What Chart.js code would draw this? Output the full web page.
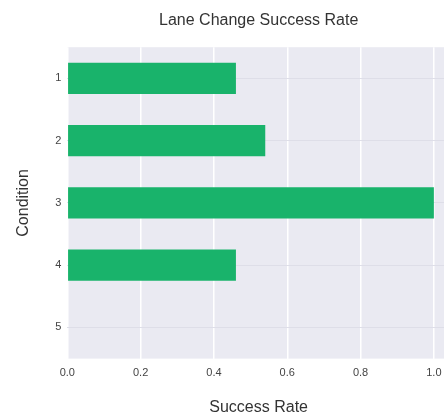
<!DOCTYPE html>
<html>
<head>
<meta charset="utf-8">
<script src="https://cdn.jsdelivr.net/npm/chart.js@4/dist/chart.umd.min.js"></script>
<style>
html,body{margin:0;padding:0;background:#fff;overflow:hidden;}
#outer{width:444px;height:417px;overflow:hidden;position:relative;}
#wrap{width:450px;height:417px;position:absolute;left:0;top:0;}
</style>
</head>
<body>
<div id="outer"><div id="wrap"><canvas id="c"></canvas></div></div>
<script>
const categories = ["1", "2", "3", "4", "5"];
const successRate = [0.46, 0.54, 1.0, 0.46, 0];
const xTicks = [0, 0.2, 0.4, 0.6, 0.8, 1.0];

const bgPlugin = {
  id: 'bg',
  beforeDraw(chart) {
    const {ctx, chartArea: a} = chart;
    ctx.save();
    ctx.fillStyle = '#EAEAF2';
    ctx.fillRect(a.left, a.top, a.right - a.left, a.bottom - a.top);
    ctx.restore();
  }
};

new Chart(document.getElementById('c'), {
  type: 'bar',
  data: {
    labels: categories,
    datasets: [{
      data: successRate,
      backgroundColor: '#19B36B',
      borderWidth: 0,
      barPercentage: 0.5,
      categoryPercentage: 1.0
    }]
  },
  plugins: [bgPlugin],
  options: {
    indexAxis: 'y',
    responsive: true,
    maintainAspectRatio: false,
    animation: false,
    devicePixelRatio: 1,
    layout: {padding: {left: 14, right: 0, top: 5, bottom: 0}},
    plugins: {
      legend: {display: false},
      tooltip: {enabled: false},
      title: {
        display: true,
        fullSize: false,
        text: 'Lane Change Success Rate',
        color: '#333333',
        font: {family: 'Liberation Sans, Arial, sans-serif', size: 16, weight: 'normal'},
        padding: {top: 6, bottom: 17}
      }
    },
    scales: {
      x: {
        type: 'linear',
        min: 0,
        max: 1.044,
        afterBuildTicks(scale) { scale.ticks = xTicks.map(v => ({value: v})); },
        grid: {color: '#FFFFFF', lineWidth: 1.5, drawTicks: false},
        border: {display: false},
        ticks: {
          color: '#444444',
          font: {family: 'Liberation Sans, Arial, sans-serif', size: 11},
          padding: 8,
          callback: v => v.toFixed(1)
        },
        title: {
          display: true,
          text: 'Success Rate',
          color: '#333333',
          font: {family: 'Liberation Sans, Arial, sans-serif', size: 16},
          padding: {top: 10, bottom: 0}
        }
      },
      y: {
        offset: true,
        grid: {color: '#DEDEE8', lineWidth: 1, drawTicks: false, offset: false},
        border: {display: false},
        ticks: {
          color: '#444444',
          font: {family: 'Liberation Sans, Arial, sans-serif', size: 11},
          padding: 6
        },
        title: {
          display: true,
          text: 'Condition',
          color: '#333333',
          font: {family: 'Liberation Sans, Arial, sans-serif', size: 16},
          padding: {top: 0, bottom: 16}
        }
      }
    }
  }
});
</script>
</body>
</html>
